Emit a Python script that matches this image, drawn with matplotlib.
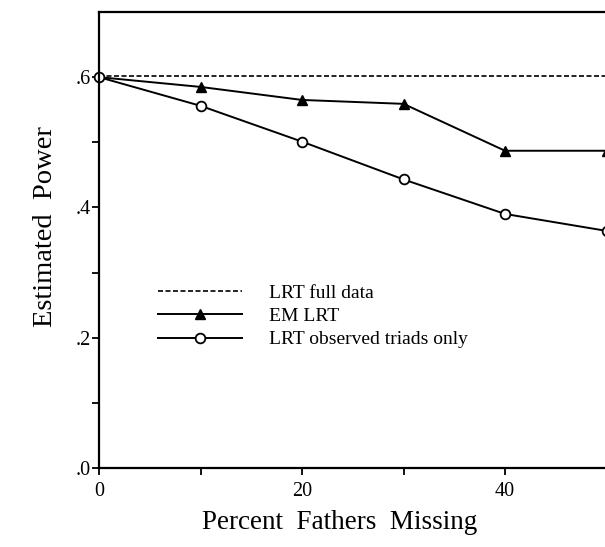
import matplotlib
matplotlib.use("Agg")
import matplotlib.pyplot as plt

plt.rcParams['font.family'] = ['Liberation Serif', 'DejaVu Serif']

pct_missing = [0, 10, 20, 30, 40, 50]
full_data = [0.601, 0.601, 0.601, 0.601, 0.601, 0.601]
em_lrt = [0.600, 0.585, 0.565, 0.559, 0.487, 0.487]
observed_only = [0.600, 0.556, 0.501, 0.443, 0.390, 0.364]

y_ticks = [0.0, 0.2, 0.4, 0.6]
y_labels = ['.0', '.2', '.4', '.6']
y_minor = [0.1, 0.3, 0.5]
x_major = [0, 20, 40]
x_minor = [10, 30]

fig = plt.figure(figsize=(6.05, 5.47), dpi=100)
ax = fig.add_axes([99/605, 79/547, 507.5/605, 456/547])

ax.plot(pct_missing, full_data, color='black', lw=1.2, ls=(0, (3, 1.5)), label='LRT full data')
ax.plot(pct_missing, em_lrt, color='black', lw=1.4, marker='^', markersize=7,
        markerfacecolor='black', markevery=slice(1, None), label='EM LRT', clip_on=False)
ax.plot(pct_missing, observed_only, color='black', lw=1.4, marker='o', markersize=7,
        markerfacecolor='white', markeredgewidth=1.3, label='LRT observed triads only', clip_on=False)

ax.set_xlim(0, 50)
ax.set_ylim(0, 0.7)
ax.set_xticks(x_major)
ax.set_xticks(x_minor, minor=True)
ax.set_yticks(y_ticks)
ax.set_yticklabels(y_labels)
ax.set_yticks(y_minor, minor=True)
ax.tick_params(axis='both', which='both', direction='out', length=5, width=1.3, labelsize=14.5, pad=1)
ax.tick_params(axis='x', pad=5)
for s in ['left', 'bottom', 'top']:
    ax.spines[s].set_linewidth(1.6)
ax.spines['right'].set_visible(False)

ax.set_ylabel('Estimated  Power', fontsize=20.5)
ax.yaxis.set_label_coords(-0.08, 0.53)
ax.set_xlabel('Percent  Fathers  Missing', fontsize=19.5)
ax.xaxis.set_label_coords(0.475, -0.092)

leg = ax.legend(loc='upper left', bbox_to_anchor=(0.082, 0.442), frameon=False,
                fontsize=14, handlelength=4.3, handletextpad=1.4, labelspacing=0.3)

fig.savefig('out.png', dpi=100)
